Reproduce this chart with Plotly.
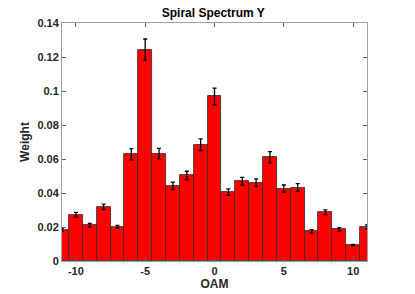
import plotly.graph_objects as go

oam = list(range(-11, 12))
weight = [0.0184, 0.0272, 0.0211, 0.0319, 0.0201, 0.0628, 0.1244, 0.0632, 0.0442, 0.0503,
          0.0684, 0.0968, 0.0405, 0.0469, 0.0460, 0.0610, 0.0426, 0.0432, 0.0174, 0.0287,
          0.0186, 0.0094, 0.0201]
err = [0.0010, 0.0014, 0.0010, 0.0016, 0.0009, 0.0033, 0.0062, 0.0031, 0.0022, 0.0025,
       0.0034, 0.0049, 0.0019, 0.0023, 0.0023, 0.0033, 0.0021, 0.0023, 0.0010, 0.0014,
       0.0010, 0.0004, 0.0012]
xticks = [-10, -5, 0, 5, 10]
yticks = [0, 0.02, 0.04, 0.06, 0.08, 0.1, 0.12, 0.14]
ytick_labels = ["0", "0.02", "0.04", "0.06", "0.08", "0.1", "0.12", "0.14"]

font = "Liberation Sans"
fig = go.Figure()
fig.add_trace(go.Bar(
    x=oam, y=weight, width=1,
    marker=dict(color="#ff0000", line=dict(color="#2a2a2a", width=0.8)),
    error_y=dict(type="data", array=err, visible=True, color="black", thickness=1.3, width=2),
))
axis_common = dict(
    showgrid=False, zeroline=False, showline=True, mirror="ticks",
    linecolor="#a0a0a0", linewidth=1, ticks="inside", ticklen=4, automargin=False,
    tickcolor="#606060", tickfont=dict(family=font, size=11, color="#262626"),
)
fig.update_layout(
    width=415, height=294,
    margin=dict(l=62, r=48, t=23, b=33, autoexpand=False),
    paper_bgcolor="white", plot_bgcolor="white",
    showlegend=False, bargap=0,
    title=dict(text="<b>Spiral Spectrum Y</b>", x=0.514, xanchor="center", y=0.958, yanchor="middle",
               font=dict(family=font, size=12, color="black")),
    font=dict(family=font),
)
fig.update_xaxes(range=[-11, 11], tickvals=xticks, ticktext=[f"<b>{v}</b>" for v in xticks],
                 title=dict(text="<b>OAM</b>", font=dict(family=font, size=12, color="#262626"), standoff=2),
                 **axis_common)
fig.update_yaxes(range=[0, 0.14], tickvals=yticks, ticktext=[f"<b>{t}</b>" for t in ytick_labels],
                 title=dict(text="<b>Weight</b>", font=dict(family=font, size=12, color="#262626"), standoff=5),
                 **axis_common)
# remove the browser's default 8px body margin so the figure sits at the window's corner
fig.write_html("out.html", config={"displayModeBar": False},
               post_script="document.body.style.margin='0';")
